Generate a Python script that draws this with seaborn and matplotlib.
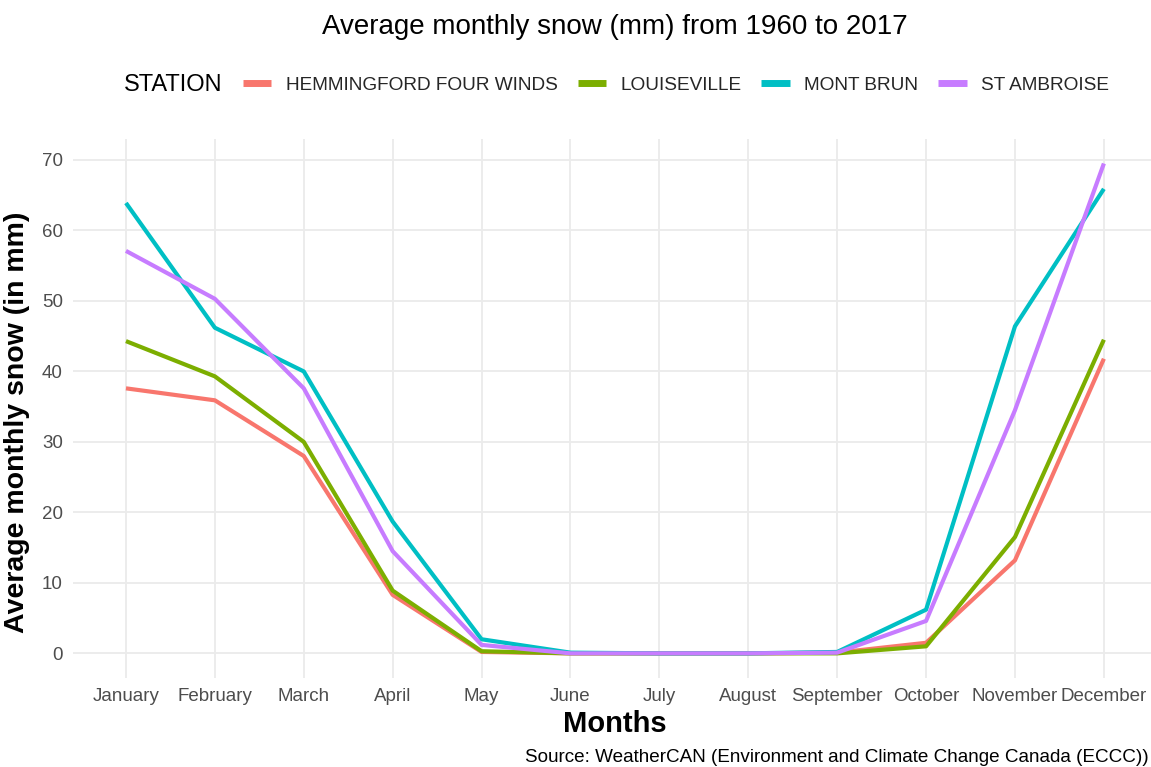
import pandas as pd
import seaborn as sns
import matplotlib.pyplot as plt

# Datos
months = ['January', 'February', 'March', 'April', 'May', 'June',
          'July', 'August', 'September', 'October', 'November', 'December']
stations = ['HEMMINGFORD FOUR WINDS', 'LOUISEVILLE', 'MONT BRUN', 'ST AMBROISE']

hemmingford = [37.6, 35.9, 28.0, 8.3, 0.2, 0.0, 0.0, 0.0, 0.1, 1.5, 13.2, 41.8]
louiseville = [44.3, 39.3, 30.0, 8.9, 0.3, 0.0, 0.0, 0.0, 0.0, 1.0, 16.5, 44.5]
mont_brun = [63.9, 46.2, 40.0, 18.7, 2.0, 0.1, 0.0, 0.0, 0.2, 6.2, 46.4, 65.9]
st_ambroise = [57.1, 50.3, 37.6, 14.5, 1.2, 0.0, 0.0, 0.0, 0.1, 4.6, 34.5, 69.5]

colors = ['#F8766D', '#7CAE00', '#00BFC4', '#C77CFF']

df = pd.DataFrame({
    'Month': months * 4,
    'STATION': [s for s in stations for _ in months],
    'Snow': hemmingford + louiseville + mont_brun + st_ambroise,
})
df['pos'] = df['Month'].map({m: i for i, m in enumerate(months)})

sns.set_style('whitegrid')
plt.rcParams['font.family'] = ['Liberation Sans', 'DejaVu Sans']

fig = plt.figure(figsize=(11.51, 7.67), dpi=100)
ax = fig.add_axes([0.0631, 0.116, 0.9423, 0.703])

sns.lineplot(data=df, x='pos', y='Snow', hue='STATION', palette=colors,
             linewidth=3, ax=ax, legend=False, solid_capstyle='butt')

ax.set_xlim(-0.6, 11.6)
ax.set_ylim(-3.5, 73)
ax.set_xticks(range(12))
ax.set_xticklabels(months, fontsize=13.5, color='#4D4D4D')
ax.set_yticks(range(0, 80, 10))
ax.tick_params(axis='y', labelsize=13.5, labelcolor='#4D4D4D', length=0, pad=7)
ax.tick_params(axis='x', length=0, pad=7)
ax.grid(True, color='#EBEBEB', linewidth=1.3)
for s in ax.spines.values():
    s.set_visible(False)

ax.set_xlabel('Months', fontsize=21, fontweight='bold', color='black', labelpad=4)
ax.set_ylabel('Average monthly snow (in mm)', fontsize=20.5, fontweight='bold',
              color='black')
ax.yaxis.set_label_coords(-0.039, 0.474)

fig.text(0.534, 0.965, 'Average monthly snow (mm) from 1960 to 2017',
         ha='center', va='center', fontsize=20, color='black')
fig.text(0.456, 0.012, 'Source: WeatherCAN (Environment and Climate Change Canada (ECCC))',
         ha='left', va='center', fontsize=13.6, color='black')

# Leyenda arriba, con el título a la izquierda
fig.text(0.108, 0.889, 'STATION', ha='left', va='center', fontsize=17, color='black')
handles = [plt.Line2D([], [], color=c, linewidth=5, solid_capstyle='butt') for c in colors]
fig.legend(handles, stations, loc='center left', bbox_to_anchor=(0.211, 0.889),
           ncol=4, frameon=False, fontsize=13.7, borderaxespad=0, borderpad=0,
           handlelength=1.5, columnspacing=1.05, handletextpad=0.75)

fig.savefig('out.png', dpi=100)
